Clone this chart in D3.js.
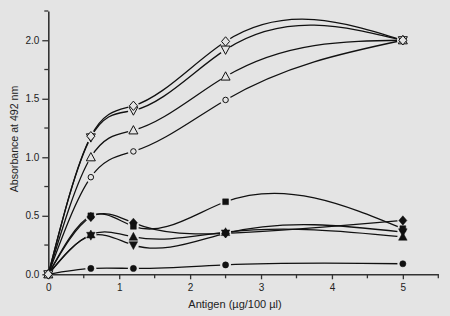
<!DOCTYPE html>
<html><head><meta charset="utf-8">
<script src="https://cdn.jsdelivr.net/npm/d3@7"></script>
<style>
html,body{margin:0;padding:0;background:#e4e4e4;}
svg{display:block;}
text{font-family:"Liberation Sans",Arial,Helvetica,sans-serif;fill:#222;}
</style></head>
<body>
<svg id="chart" width="450" height="316"></svg>
<script>
// ---- data ----
const xValues = [0, 0.6, 1.2, 2.5, 5];
const openDiamond   = [0, 1.18, 1.44, 1.99, 2.00];
const openDownTri   = [0, 1.17, 1.40, 1.92, 2.00];
const openTri       = [0, 1.00, 1.23, 1.69, 2.00];
const openCircle    = [0, 0.83, 1.05, 1.49, 2.00];
const filledSquare  = [0, 0.50, 0.41, 0.62, 0.39];
const filledDiamond = [0, 0.49, 0.44, 0.35, 0.46];
const filledTri     = [0, 0.34, 0.32, 0.36, 0.32];
const filledDownTri = [0, 0.33, 0.25, 0.35, 0.36];
const filledCircle  = [0, 0.05, 0.05, 0.08, 0.09];
const xTicks = [0, 1, 2, 3, 4, 5];
const xMinorTicks = [0.5, 1.5, 2.5, 3.5, 4.5, 5.5];
const yTicks = [0, 0.5, 1.0, 1.5, 2.0];
const yMinorTicks = [0.25, 0.75, 1.25, 1.75, 2.25];
const xLabel = "Antigen (µg/100 µl)";
const yLabel = "Absorbance at 492 nm";

// Custom d3 curve: natural cubic spline y(x) (non-uniform knots), drawn as Bezier segments
function curveNaturalX(context) {
  let xs, ys;
  return {
    areaStart(){}, areaEnd(){},
    lineStart(){ xs = []; ys = []; },
    point(px, py){ xs.push(+px); ys.push(+py); },
    lineEnd(){
      const n = xs.length;
      if (!n) return;
      context.moveTo(xs[0], ys[0]);
      if (n === 1) return;
      const h = [], d = [];
      for (let i = 0; i < n - 1; i++) { h.push(xs[i+1] - xs[i]); d.push((ys[i+1] - ys[i]) / h[i]); }
      const M = new Array(n).fill(0);
      if (n > 2) {
        const m = n - 2, a = [], b = [], c = [], r = [];
        for (let k = 0; k < m; k++) {
          const i = k + 1;
          a.push(h[i-1]); b.push(2 * (h[i-1] + h[i])); c.push(h[i]); r.push(6 * (d[i] - d[i-1]));
        }
        for (let k = 1; k < m; k++) { const w = a[k] / b[k-1]; b[k] -= w * c[k-1]; r[k] -= w * r[k-1]; }
        const sol = new Array(m);
        sol[m-1] = r[m-1] / b[m-1];
        for (let k = m - 2; k >= 0; k--) sol[k] = (r[k] - c[k] * sol[k+1]) / b[k];
        for (let k = 0; k < m; k++) M[k+1] = sol[k];
      }
      for (let i = 0; i < n - 1; i++) {
        const m0 = d[i] - h[i] * (2 * M[i] + M[i+1]) / 6;
        const m1 = d[i] + h[i] * (M[i] + 2 * M[i+1]) / 6;
        context.bezierCurveTo(xs[i] + h[i] / 3, ys[i] + m0 * h[i] / 3,
                              xs[i+1] - h[i] / 3, ys[i+1] - m1 * h[i] / 3,
                              xs[i+1], ys[i+1]);
      }
    }
  };
}

const diamondType = {draw(ctx, size){ const r = Math.sqrt(size/2); ctx.moveTo(0,-r*1.1); ctx.lineTo(r*0.95,0); ctx.lineTo(0,r*1.1); ctx.lineTo(-r*0.95,0); ctx.closePath(); }};
const triType = {draw(ctx, size){ const r = Math.sqrt(size)*0.75; ctx.moveTo(0,-r); ctx.lineTo(r*0.95,r*0.75); ctx.lineTo(-r*0.95,r*0.75); ctx.closePath(); }};
const downTriType = {draw(ctx, size){ const r = Math.sqrt(size)*0.75; ctx.moveTo(0,r); ctx.lineTo(r*0.95,-r*0.75); ctx.lineTo(-r*0.95,-r*0.75); ctx.closePath(); }};

const series = [
  {values: filledCircle,  type: d3.symbolCircle, filled: true, size: 30},
  {values: filledDownTri, type: downTriType, filled: true, size: 36},
  {values: filledTri,     type: triType, filled: true, size: 36},
  {values: filledDiamond, type: diamondType, filled: true, size: 36},
  {values: filledSquare,  type: d3.symbolSquare, filled: true, size: 34},
  {values: openCircle,    type: d3.symbolCircle, filled: false, size: 24},
  {values: openTri,       type: triType, filled: false, size: 40},
  {values: openDownTri,   type: downTriType, filled: false, size: 40},
  {values: openDiamond,   type: diamondType, filled: false, size: 36}
];

const bg = "#e4e4e4";
const svg = d3.select("#chart");
const x = d3.scaleLinear().domain([0, 5.5]).range([48.3, 438.3]);
const y = d3.scaleLinear().domain([0, 2.25]).range([274.3, 11]);

// axes
const xAxisG = svg.append("g").attr("transform", `translate(0,${y(0)})`);
xAxisG.call(d3.axisBottom(x).tickValues(xTicks).tickFormat(d3.format("d")).tickSize(5).tickSizeOuter(0));
xAxisG.append("g").selectAll("line").data(xMinorTicks).join("line")
  .attr("x1", d => x(d)).attr("x2", d => x(d)).attr("y1", 0).attr("y2", 4);
const yAxisG = svg.append("g").attr("transform", `translate(${x(0)},0)`);
yAxisG.call(d3.axisLeft(y).tickValues(yTicks).tickFormat(d3.format(".1f")).tickSize(6).tickSizeOuter(0));
yAxisG.append("g").selectAll("line").data(yMinorTicks).join("line")
  .attr("y1", d => y(d)).attr("y2", d => y(d)).attr("x1", 0).attr("x2", -4);
svg.selectAll(".domain").attr("stroke", "#333").attr("stroke-width", 1.6);
svg.selectAll(".tick line").attr("stroke", "#333").attr("stroke-width", 1.3);
xAxisG.selectAll("g > line").attr("stroke", "#333").attr("stroke-width", 1.3);
yAxisG.selectAll("g > line").attr("stroke", "#333").attr("stroke-width", 1.3);
svg.selectAll(".tick text").attr("font-size", 10).attr("fill", "#222")
  .attr("font-family", "Liberation Sans, Arial, sans-serif");
xAxisG.selectAll(".tick text").attr("dy", "0.9em");
yAxisG.selectAll(".tick text").attr("x", -9);

svg.append("text").attr("x", 235).attr("y", 308).attr("text-anchor", "middle")
  .attr("font-size", 11).text(xLabel);
svg.append("text").attr("transform", `translate(18,139) rotate(-90)`)
  .attr("text-anchor", "middle").attr("font-size", 10.6).text(yLabel);

// lines
const line = d3.line().x(d => x(d[0])).y(d => y(d[1])).curve(curveNaturalX);
const linesG = svg.append("g");
series.forEach(s => {
  linesG.append("path").datum(xValues.map((v, i) => [v, s.values[i]]))
    .attr("d", line).attr("fill", "none").attr("stroke", "#111").attr("stroke-width", 1.3);
});

// halos to create gaps near markers
const haloG = svg.append("g");
series.forEach(s => {
  haloG.selectAll(null).data(xValues.map((v, i) => [v, s.values[i]]).filter(d => d[0] > 0)).join("circle")
    .attr("cx", d => x(d[0])).attr("cy", d => y(d[1])).attr("r", 5.5).attr("fill", bg);
});

// markers
const markG = svg.append("g");
series.forEach(s => {
  markG.selectAll(null).data(xValues.map((v, i) => [v, s.values[i]])).join("path")
    .attr("transform", d => `translate(${x(d[0])},${y(d[1])})`)
    .attr("d", d3.symbol().type(s.type).size(s.size))
    .attr("fill", s.filled ? "#111" : bg)
    .attr("stroke", "#111").attr("stroke-width", s.filled ? 0.5 : 1);
});
</script>
</body></html>
